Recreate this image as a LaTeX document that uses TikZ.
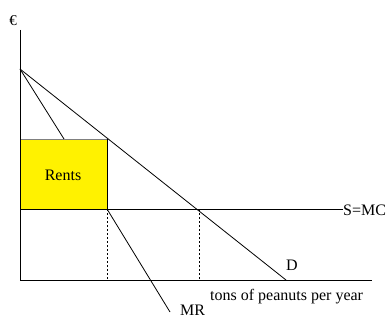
\documentclass[tikz,border=0pt]{standalone}
\usepackage{fontspec}
\setmainfont{Liberation Serif}
\begin{document}
\begin{tikzpicture}[x=1pt,y=-1pt,
  curve/.style={line width=0.8pt},
  guide/.style={line width=0.6pt,dashed,dash pattern=on 2pt off 2pt},
  lbl/.style={inner sep=0pt,font=\fontsize{16}{18}\selectfont}]
\useasboundingbox (0,0) rectangle (390,320);
% coordinates
\coordinate (O) at (20,280);
\coordinate (ytop) at (20,30);
\coordinate (xend) at (372,280);
\coordinate (A) at (20,69);
\coordinate (Dend) at (286,280);
\coordinate (MRend) at (170,312);
\coordinate (P1) at (107,209);
\coordinate (P2) at (199,209);
\coordinate (P1b) at (107,280);
\coordinate (P2b) at (199,280);
\coordinate (Sstart) at (20,209);
\coordinate (Send) at (343,209);
% rents box
\fill[yellow] (20,139) rectangle (107,209);
\draw[line width=0.6pt,gray] (20,139) -- (107,139);
\draw[line width=0.6pt] (107,139) -- (107,209);
% curves
\draw[curve] (A) -- (Dend);
\draw[curve] (A) -- (64,139);
\draw[curve] (P1) -- (MRend);
\draw[curve] (Sstart) -- (Send);
\draw[guide] (P1) -- (P1b);
\draw[guide] (P2) -- (P2b);
% axes
\draw[line width=0.9pt] (ytop) -- (O) -- (xend);
% labels
\node[lbl,font=\fontsize{15}{17}\selectfont] (euro) at (13,21) {€};
\node[lbl] (rents) at (63,175) {Rents};
\node[lbl,anchor=west] (smc) at (343,210) {S=MC};
\node[lbl] (dlbl) at (292,265) {D};
\node[lbl,anchor=west] (mrlbl) at (180,310) {MR};
\node[lbl,anchor=west] (xlbl) at (210,297) {tons of peanuts per year};
\end{tikzpicture}
\end{document}
